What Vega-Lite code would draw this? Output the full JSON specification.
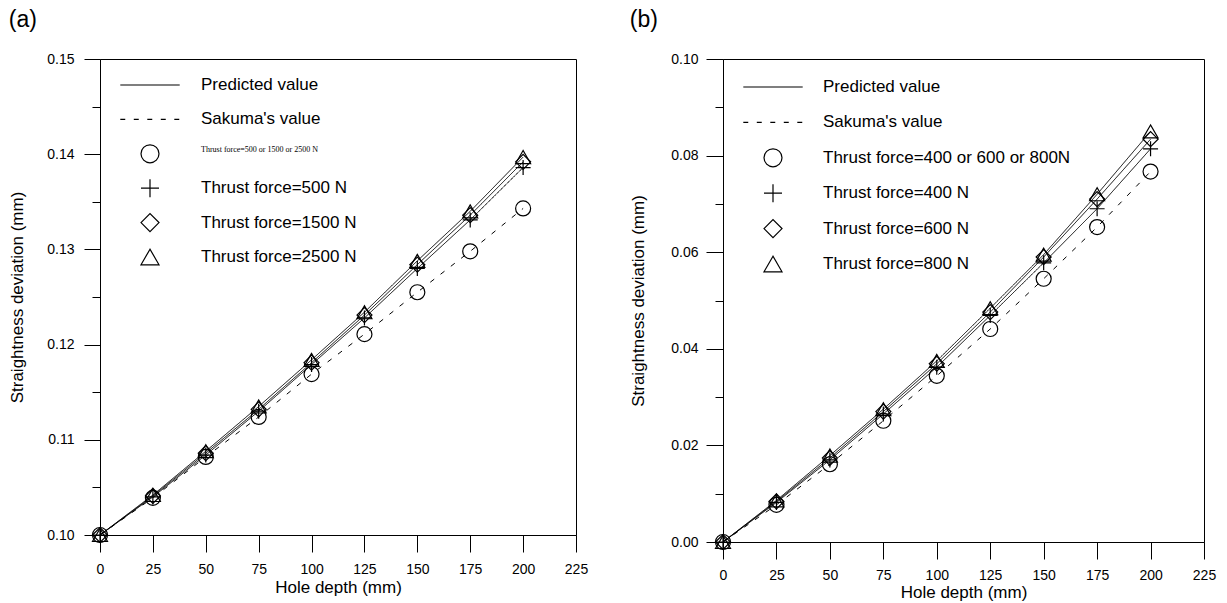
{
  "$schema": "https://vega.github.io/schema/vega-lite/v6.json",
  "padding": {"left": 8, "top": 8, "right": 0, "bottom": 0},
  "spacing": 40,
  "datasets": {
    "a": [
      {"x": 0, "y": 0.1, "s": "Thrust force=500 N", "t": "Predicted value"},
      {"x": 25, "y": 0.104, "s": "Thrust force=500 N", "t": "Predicted value"},
      {"x": 50, "y": 0.1084, "s": "Thrust force=500 N", "t": "Predicted value"},
      {"x": 75, "y": 0.113, "s": "Thrust force=500 N", "t": "Predicted value"},
      {"x": 100, "y": 0.1179, "s": "Thrust force=500 N", "t": "Predicted value"},
      {"x": 125, "y": 0.1228, "s": "Thrust force=500 N", "t": "Predicted value"},
      {"x": 150, "y": 0.128, "s": "Thrust force=500 N", "t": "Predicted value"},
      {"x": 175, "y": 0.1331, "s": "Thrust force=500 N", "t": "Predicted value"},
      {"x": 200, "y": 0.1386, "s": "Thrust force=500 N", "t": "Predicted value"},
      {"x": 0, "y": 0.1, "s": "Thrust force=1500 N", "t": "Predicted value"},
      {"x": 25, "y": 0.1041, "s": "Thrust force=1500 N", "t": "Predicted value"},
      {"x": 50, "y": 0.1086, "s": "Thrust force=1500 N", "t": "Predicted value"},
      {"x": 75, "y": 0.1132, "s": "Thrust force=1500 N", "t": "Predicted value"},
      {"x": 100, "y": 0.1181, "s": "Thrust force=1500 N", "t": "Predicted value"},
      {"x": 125, "y": 0.1231, "s": "Thrust force=1500 N", "t": "Predicted value"},
      {"x": 150, "y": 0.1284, "s": "Thrust force=1500 N", "t": "Predicted value"},
      {"x": 175, "y": 0.1336, "s": "Thrust force=1500 N", "t": "Predicted value"},
      {"x": 200, "y": 0.1392, "s": "Thrust force=1500 N", "t": "Predicted value"},
      {"x": 0, "y": 0.1, "s": "Thrust force=2500 N", "t": "Predicted value"},
      {"x": 25, "y": 0.1042, "s": "Thrust force=2500 N", "t": "Predicted value"},
      {"x": 50, "y": 0.1088, "s": "Thrust force=2500 N", "t": "Predicted value"},
      {"x": 75, "y": 0.1135, "s": "Thrust force=2500 N", "t": "Predicted value"},
      {"x": 100, "y": 0.1184, "s": "Thrust force=2500 N", "t": "Predicted value"},
      {"x": 125, "y": 0.1234, "s": "Thrust force=2500 N", "t": "Predicted value"},
      {"x": 150, "y": 0.1288, "s": "Thrust force=2500 N", "t": "Predicted value"},
      {"x": 175, "y": 0.134, "s": "Thrust force=2500 N", "t": "Predicted value"},
      {"x": 200, "y": 0.1397, "s": "Thrust force=2500 N", "t": "Predicted value"},
      {"x": 0, "y": 0.1, "s": "Thrust force=500 or 1500 or 2500 N", "t": "Sakuma's value"},
      {"x": 25, "y": 0.1039, "s": "Thrust force=500 or 1500 or 2500 N", "t": "Sakuma's value"},
      {"x": 50, "y": 0.1082, "s": "Thrust force=500 or 1500 or 2500 N", "t": "Sakuma's value"},
      {"x": 75, "y": 0.1124, "s": "Thrust force=500 or 1500 or 2500 N", "t": "Sakuma's value"},
      {"x": 100, "y": 0.1169, "s": "Thrust force=500 or 1500 or 2500 N", "t": "Sakuma's value"},
      {"x": 125, "y": 0.1211, "s": "Thrust force=500 or 1500 or 2500 N", "t": "Sakuma's value"},
      {"x": 150, "y": 0.1255, "s": "Thrust force=500 or 1500 or 2500 N", "t": "Sakuma's value"},
      {"x": 175, "y": 0.1298, "s": "Thrust force=500 or 1500 or 2500 N", "t": "Sakuma's value"},
      {"x": 200, "y": 0.1343, "s": "Thrust force=500 or 1500 or 2500 N", "t": "Sakuma's value"}
    ],
    "b": [
      {"x": 0, "y": 0, "s": "Thrust force=400 N", "t": "Predicted value"},
      {"x": 25, "y": 0.0082, "s": "Thrust force=400 N", "t": "Predicted value"},
      {"x": 50, "y": 0.017, "s": "Thrust force=400 N", "t": "Predicted value"},
      {"x": 75, "y": 0.0265, "s": "Thrust force=400 N", "t": "Predicted value"},
      {"x": 100, "y": 0.0362, "s": "Thrust force=400 N", "t": "Predicted value"},
      {"x": 125, "y": 0.0469, "s": "Thrust force=400 N", "t": "Predicted value"},
      {"x": 150, "y": 0.0578, "s": "Thrust force=400 N", "t": "Predicted value"},
      {"x": 175, "y": 0.069, "s": "Thrust force=400 N", "t": "Predicted value"},
      {"x": 200, "y": 0.0814, "s": "Thrust force=400 N", "t": "Predicted value"},
      {"x": 0, "y": 0, "s": "Thrust force=600 N", "t": "Predicted value"},
      {"x": 25, "y": 0.0084, "s": "Thrust force=600 N", "t": "Predicted value"},
      {"x": 50, "y": 0.0174, "s": "Thrust force=600 N", "t": "Predicted value"},
      {"x": 75, "y": 0.027, "s": "Thrust force=600 N", "t": "Predicted value"},
      {"x": 100, "y": 0.0369, "s": "Thrust force=600 N", "t": "Predicted value"},
      {"x": 125, "y": 0.0476, "s": "Thrust force=600 N", "t": "Predicted value"},
      {"x": 150, "y": 0.059, "s": "Thrust force=600 N", "t": "Predicted value"},
      {"x": 175, "y": 0.071, "s": "Thrust force=600 N", "t": "Predicted value"},
      {"x": 200, "y": 0.0834, "s": "Thrust force=600 N", "t": "Predicted value"},
      {"x": 0, "y": 0, "s": "Thrust force=800 N", "t": "Predicted value"},
      {"x": 25, "y": 0.0086, "s": "Thrust force=800 N", "t": "Predicted value"},
      {"x": 50, "y": 0.0179, "s": "Thrust force=800 N", "t": "Predicted value"},
      {"x": 75, "y": 0.0275, "s": "Thrust force=800 N", "t": "Predicted value"},
      {"x": 100, "y": 0.0375, "s": "Thrust force=800 N", "t": "Predicted value"},
      {"x": 125, "y": 0.0484, "s": "Thrust force=800 N", "t": "Predicted value"},
      {"x": 150, "y": 0.0595, "s": "Thrust force=800 N", "t": "Predicted value"},
      {"x": 175, "y": 0.072, "s": "Thrust force=800 N", "t": "Predicted value"},
      {"x": 200, "y": 0.085, "s": "Thrust force=800 N", "t": "Predicted value"},
      {"x": 0, "y": 0, "s": "Thrust force=400 or 600 or 800N", "t": "Sakuma's value"},
      {"x": 25, "y": 0.0077, "s": "Thrust force=400 or 600 or 800N", "t": "Sakuma's value"},
      {"x": 50, "y": 0.0161, "s": "Thrust force=400 or 600 or 800N", "t": "Sakuma's value"},
      {"x": 75, "y": 0.0251, "s": "Thrust force=400 or 600 or 800N", "t": "Sakuma's value"},
      {"x": 100, "y": 0.0344, "s": "Thrust force=400 or 600 or 800N", "t": "Sakuma's value"},
      {"x": 125, "y": 0.0441, "s": "Thrust force=400 or 600 or 800N", "t": "Sakuma's value"},
      {"x": 150, "y": 0.0545, "s": "Thrust force=400 or 600 or 800N", "t": "Sakuma's value"},
      {"x": 175, "y": 0.0652, "s": "Thrust force=400 or 600 or 800N", "t": "Sakuma's value"},
      {"x": 200, "y": 0.0767, "s": "Thrust force=400 or 600 or 800N", "t": "Sakuma's value"}
    ]
  },
  "hconcat": [
    {
      "width": 476,
      "height": 476,
      "title": {"text": "(a)", "anchor": "start", "frame": "bounds", "fontSize": 23, "fontWeight": "normal", "font": "Liberation Sans", "offset": 20, "color": "black"},
      "data": {"name": "a"},
      "encoding": {
        "x": {"field": "x", "type": "quantitative", "scale": {"domain": [0, 225], "nice": false},
          "axis": {"values": [0, 25, 50, 75, 100, 125, 150, 175, 200, 225], "title": "Hole depth (mm)", "tickSize": 17, "labelPadding": 10, "titlePadding": 3, "labelFlush": false, "labelOverlap": false}},
        "y": {"field": "y", "type": "quantitative", "scale": {"domain": [0.1, 0.15], "nice": false, "zero": false},
          "axis": {"values": [0.1, 0.105, 0.11, 0.115, 0.12, 0.125, 0.13, 0.135, 0.14, 0.145, 0.15],
            "labelExpr": "round(datum.value*200)%2==0 ? format(datum.value,'.2f') : ''",
            "tickSize": {"condition": {"test": "round(datum.value*200)%2==1", "value": 8}, "value": 16},
            "labelPadding": 10, "labelOverlap": false, "labelFlush": false, "title": "Straightness deviation (mm)", "titlePadding": 20}}
      },
      "layer": [
        {"mark": {"type": "line", "color": "black", "strokeWidth": 1},
          "encoding": {"detail": {"field": "s"},
            "strokeDash": {"field": "t", "scale": {"domain": ["Predicted value", "Sakuma's value"], "range": [[1, 0], [5, 8]]}, "legend": null}}},
        {"mark": {"type": "point", "filled": false, "color": "black", "strokeWidth": 1.2, "size": 225, "opacity": 1},
          "encoding": {
            "shape": {"field": "s",
              "scale": {"domain": ["Predicted value", "Sakuma's value", "Thrust force=500 or 1500 or 2500 N", "Thrust force=500 N", "Thrust force=1500 N", "Thrust force=2500 N"],
                "range": ["M-3.3,0H3.3", "M-3.3,0H-2.75M-1.8,0H-1.25M-0.3,0H0.25M1.2,0H1.75M2.7,0H3.25", "circle", "M-1,0H1M0,-1V1", "diamond", "triangle-up"]},
              "legend": {"orient": "none", "legendX": 40, "legendY": 16, "title": null, "symbolSize": 324, "symbolStrokeWidth": 1.2, "symbolStrokeColor": "black", "symbolFillColor": "transparent",
                "labelFontSize": {"expr": "datum && datum.value === 'Thrust force=500 or 1500 or 2500 N' ? 8 : 17"},
                "labelFont": {"expr": "datum && datum.value === 'Thrust force=500 or 1500 or 2500 N' ? 'Liberation Serif' : 'Liberation Sans'"},
                "labelBaseline": {"expr": "datum && datum.value === 'Thrust force=500 or 1500 or 2500 N' ? 'bottom' : 'middle'"},
                "labelColor": "black", "labelOffset": 41, "rowPadding": 10.4, "gridAlign": "all", "labelLimit": 400}}
          }}
      ]
    },
    {
      "width": 481,
      "height": 483,
      "title": {"text": "(b)", "anchor": "start", "frame": "bounds", "fontSize": 23, "fontWeight": "normal", "font": "Liberation Sans", "offset": 20, "color": "black"},
      "data": {"name": "b"},
      "encoding": {
        "x": {"field": "x", "type": "quantitative", "scale": {"domain": [0, 225], "nice": false},
          "axis": {"values": [0, 25, 50, 75, 100, 125, 150, 175, 200, 225], "title": "Hole depth (mm)", "tickSize": 17, "labelPadding": 9, "titlePadding": 2, "labelFlush": false, "labelOverlap": false}},
        "y": {"field": "y", "type": "quantitative", "scale": {"domain": [0, 0.1], "nice": false, "zero": false},
          "axis": {"values": [0, 0.01, 0.02, 0.03, 0.04, 0.05, 0.06, 0.07, 0.08, 0.09, 0.1],
            "labelExpr": "round(datum.value*100)%2==0 ? format(datum.value,'.2f') : ''",
            "tickSize": {"condition": {"test": "round(datum.value*100)%2==1", "value": 8}, "value": 17},
            "labelPadding": 8, "labelOverlap": false, "labelFlush": false, "title": "Straightness deviation (mm)", "titlePadding": 23}}
      },
      "layer": [
        {"mark": {"type": "line", "color": "black", "strokeWidth": 1},
          "encoding": {"detail": {"field": "s"},
            "strokeDash": {"field": "t", "scale": {"domain": ["Predicted value", "Sakuma's value"], "range": [[1, 0], [5, 8]]}, "legend": null}}},
        {"mark": {"type": "point", "filled": false, "color": "black", "strokeWidth": 1.2, "size": 225, "opacity": 1},
          "encoding": {
            "shape": {"field": "s",
              "scale": {"domain": ["Predicted value", "Sakuma's value", "Thrust force=400 or 600 or 800N", "Thrust force=400 N", "Thrust force=600 N", "Thrust force=800 N"],
                "range": ["M-3.3,0H3.3", "M-3.3,0H-2.75M-1.8,0H-1.25M-0.3,0H0.25M1.2,0H1.75M2.7,0H3.25", "circle", "M-1,0H1M0,-1V1", "diamond", "triangle-up"]},
              "legend": {"orient": "none", "legendX": 40, "legendY": 18, "title": null, "symbolSize": 324, "symbolStrokeWidth": 1.2, "symbolStrokeColor": "black", "symbolFillColor": "transparent", "labelFontSize": 17, "labelFont": "Liberation Sans", "labelColor": "black", "labelOffset": 40, "rowPadding": 11.4, "gridAlign": "all", "labelLimit": 400}}
          }}
      ]
    }
  ],
  "resolve": {"scale": {"shape": "independent", "strokeDash": "independent", "x": "independent", "y": "independent"}, "legend": {"shape": "independent"}},
  "config": {
    "font": "Liberation Sans",
    "view": {"stroke": "black", "strokeWidth": 1},
    "axis": {"domainColor": "black", "tickColor": "black", "labelColor": "black", "titleColor": "black", "labelFont": "Liberation Sans", "titleFont": "Liberation Sans", "labelFontSize": 14, "titleFontSize": 17, "titleFontWeight": "normal", "grid": false, "tickWidth": 1, "domainWidth": 1}
  }
}
